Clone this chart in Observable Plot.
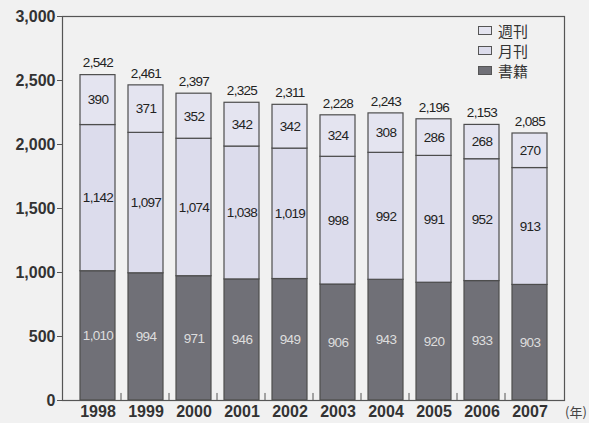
<!DOCTYPE html>
<html>
<head>
<meta charset="utf-8">
<script src="https://cdn.jsdelivr.net/npm/d3@7"></script>
<script src="https://cdn.jsdelivr.net/npm/@observablehq/plot@0.6"></script>
<style>
  body { margin: 0; background: #f1f1f1; }
  #wrap { position: relative; width: 589px; height: 423px; overflow: hidden; background: #f1f1f1; }
  #legend { position: absolute; left: 478px; top: 20px; font-family: "Noto Sans CJK JP", sans-serif; font-size: 15px; color: #333; }
  #legend .row { display: flex; align-items: center; height: 20px; }
  #legend .sw { width: 14px; height: 9px; border: 1px solid #555; margin-right: 6px; box-sizing: border-box; }
  #unit { position: absolute; left: 565px; top: 402px; font-family: "Noto Sans CJK JP", sans-serif; font-size: 13px; color: #444; white-space: nowrap; }
  svg text { font-family: "Liberation Sans", Arial, sans-serif; }
  svg g[aria-label="text"] text { letter-spacing: -0.7px; }
</style>
</head>
<body>
<div id="wrap"></div>
<script>
const years = ["1998","1999","2000","2001","2002","2003","2004","2005","2006","2007"];
const shoseki = [1010, 994, 971, 946, 949, 906, 943, 920, 933, 903];
const gekkan  = [1142, 1097, 1074, 1038, 1019, 998, 992, 991, 952, 913];
const shukan  = [390, 371, 352, 342, 342, 324, 308, 286, 268, 270];
const totals  = [2542, 2461, 2397, 2325, 2311, 2228, 2243, 2196, 2153, 2085];
const series  = ["書籍", "月刊", "週刊"];
const colors  = ["#707077", "#dcdcec", "#e4e4f0"];
const yTicks  = [0, 500, 1000, 1500, 2000, 2500, 3000];
const legendOrder = ["週刊", "月刊", "書籍"];

const seriesValues = {"書籍": shoseki, "月刊": gekkan, "週刊": shukan};
const rows = [];
years.forEach((y, i) => {
  series.forEach(s => rows.push({year: y, series: s, value: seriesValues[s][i]}));
});
const totalRows = years.map((y, i) => ({year: y, total: totals[i]}));
const fmt = d3.format(",");

const chart = Plot.plot({
  width: 589,
  height: 423,
  marginLeft: 62,
  marginRight: 25,
  marginTop: 16,
  marginBottom: 23,
  style: {background: "#f1f1f1", color: "#333"},
  x: {domain: years, padding: 0.28, label: null},
  y: {domain: [0, 3000], label: null},
  color: {domain: series, range: colors},
  marks: [
    Plot.barY(rows, {x: "year", y: "value", fill: "series", stroke: "#4d4d4d", strokeWidth: 1.2, order: series}),
    Plot.text(rows, Plot.stackY({x: "year", y: "value", z: "series", order: series,
      text: d => d.series === "書籍" ? fmt(d.value) : "", fill: "#dedede", fontSize: 13.5})),
    Plot.text(rows, Plot.stackY({x: "year", y: "value", z: "series", order: series,
      text: d => d.series !== "書籍" ? fmt(d.value) : "", fill: "#222", fontSize: 13.5})),
    Plot.text(totalRows, {x: "year", y: "total", text: d => fmt(d.total), dy: -12, fill: "#222", fontSize: 13.5}),
    Plot.ruleX(years.slice(1), {x: d => d, y1: 0, y2: 55, dx: -25, stroke: "#555"}),
    Plot.frame({stroke: "#555", strokeWidth: 1.2}),
    Plot.axisY({ticks: yTicks, tickFormat: fmt, tickSize: 5, tickPadding: 2, fontSize: 16, fontWeight: "bold", label: null, stroke: "#555"}),
    Plot.axisX({tickSize: 0, tickPadding: 5, fontSize: 16, fontWeight: "bold", label: null})
  ]
});

const wrap = document.getElementById("wrap");
wrap.appendChild(chart);

const legend = document.createElement("div");
legend.id = "legend";
legendOrder.forEach(s => {
  const row = document.createElement("div");
  row.className = "row";
  const sw = document.createElement("div");
  sw.className = "sw";
  sw.style.background = colors[series.indexOf(s)];
  const lb = document.createElement("span");
  lb.textContent = s;
  row.appendChild(sw);
  row.appendChild(lb);
  legend.appendChild(row);
});
wrap.appendChild(legend);

const unit = document.createElement("div");
unit.id = "unit";
unit.textContent = "(年)";
wrap.appendChild(unit);
</script>
</body>
</html>
